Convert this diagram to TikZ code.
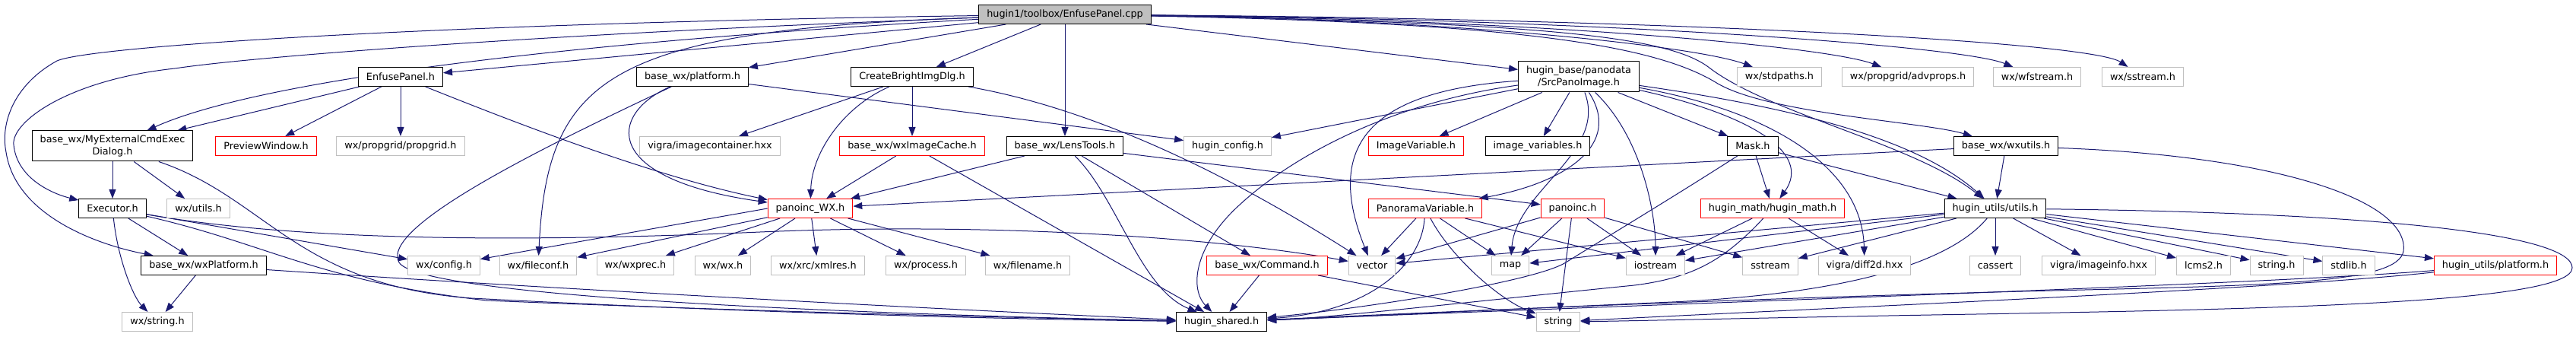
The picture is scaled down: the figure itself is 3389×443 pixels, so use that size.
\documentclass[tikz,border=0pt]{standalone}
\usepackage{fontspec}
\setmainfont{DejaVu Sans}
\usetikzlibrary{arrows.meta}
\definecolor{edgeblue}{HTML}{191970}
\definecolor{graybox}{HTML}{BFBFBF}
\pgfdeclarelayer{edges}
\pgfsetlayers{edges,main}
\tikzset{
  box/.style={draw=black, fill=white, line width=1pt, inner xsep=10.5pt, inner ysep=0pt,
    minimum height=25pt, font=\fontsize{12.8pt}{15.5pt}\selectfont},
  boxroot/.style={box, fill=graybox},
  boxred/.style={box, draw=red},
  boxgray/.style={box, draw=graybox},
  boxtwo/.style={box, align=center, minimum height=40pt},
  dep/.style={draw=edgeblue, line width=1pt, -{Triangle[length=12pt,width=9pt]}},
}

\begin{document}
\begin{tikzpicture}[x=1pt,y=1pt,yscale=-1,xscale=1]
\useasboundingbox (0,0) rectangle (3389,443);

% Row 0
\node[boxroot] (root) at (1401,19) {hugin1/toolbox/EnfusePanel.cpp};
% Row 1
\node[box] (enfpanel) at (527,101) {EnfusePanel.h};
\node[box] (bwxplat) at (911,101) {base\_wx/platform.h};
\node[box] (brightdlg) at (1200,101) {CreateBrightImgDlg.h};
\node[boxtwo] (srcimg) at (2077,101) {hugin\_base/panodata\\/SrcPanoImage.h};
\node[boxgray] (stdpaths) at (2341,101) {wx/stdpaths.h};
\node[boxgray] (advprops) at (2510,101) {wx/propgrid/advprops.h};
\node[boxgray] (wfstream) at (2680,101) {wx/wfstream.h};
\node[boxgray] (wxsstream) at (2819,101) {wx/sstream.h};
% Row 2
\node[boxtwo] (cmddlg) at (148,192) {base\_wx/MyExternalCmdExec\\Dialog.h};
\node[boxred] (preview) at (350,192) {PreviewWindow.h};
\node[boxgray] (propgrid) at (527,192) {wx/propgrid/propgrid.h};
\node[boxgray] (imgcont) at (934,192) {vigra/imagecontainer.hxx};
\node[boxred] (imgcache) at (1200,192) {base\_wx/wxImageCache.h};
\node[box] (lenstools) at (1401,192) {base\_wx/LensTools.h};
\node[boxgray] (hconfig) at (1615,192) {hugin\_config.h};
\node[boxred] (imgvar) at (1863,192) {ImageVariable.h};
\node[box] (imgvars) at (2023,192) {image\_variables.h};
\node[box] (mask) at (2306,192) {Mask.h};
\node[box] (wxutils) at (2639,192) {base\_wx/wxutils.h};
% Row 3
\node[box] (executor) at (148,274) {Executor.h};
\node[boxgray] (wxutilsh) at (261,274) {wx/utils.h};
\node[boxred] (panowx) at (1066,274) {panoinc\_WX.h};
\node[boxred] (panovar) at (1875,274) {PanoramaVariable.h};
\node[boxred] (panoinc) at (2069,274) {panoinc.h};
\node[boxred] (hmath) at (2332,274) {hugin\_math/hugin\_math.h};
\node[box] (hutils) at (2625,274) {hugin\_utils/utils.h};
% Row 4
\node[box] (wxplat) at (268,349) {base\_wx/wxPlatform.h};
\node[boxgray] (wxconfig) at (584,349) {wx/config.h};
\node[boxgray] (fileconf) at (708,349) {wx/fileconf.h};
\node[boxgray] (wxprec) at (836,349) {wx/wxprec.h};
\node[boxgray] (wxwx) at (951,349) {wx/wx.h};
\node[boxgray] (xmlres) at (1076,349) {wx/xrc/xmlres.h};
\node[boxgray] (process) at (1218,349) {wx/process.h};
\node[boxgray] (filename) at (1352,349) {wx/filename.h};
\node[boxred] (command) at (1667,349) {base\_wx/Command.h};
\node[boxgray] (vector) at (1805,349) {vector};
\node[boxgray] (map) at (1987,349) {map};
\node[boxgray] (iostream) at (2178,349) {iostream};
\node[boxgray] (sstream) at (2329,349) {sstream};
\node[boxgray] (diff2d) at (2453,349) {vigra/diff2d.hxx};
\node[boxgray] (cassert) at (2625,349) {cassert};
\node[boxgray] (imginfo) at (2761,349) {vigra/imageinfo.hxx};
\node[boxgray] (lcms) at (2899,349) {lcms2.h};
\node[boxgray] (stringh) at (2995,349) {string.h};
\node[boxgray] (stdlib) at (3090,349) {stdlib.h};
\node[boxred] (hplat) at (3283,349) {hugin\_utils/platform.h};
% Row 5
\node[boxgray] (wxstring) at (207,423) {wx/string.h};
\node[box] (shared) at (1607,423) {hugin\_shared.h};
\node[boxgray] (string) at (2050,423) {string};

\begin{pgfonlayer}{edges}
% Edges from the root
\draw[dep] (root) -- (enfpanel);
\draw[dep] (root) .. controls (700,58) and (330,110) .. (cmddlg);
\draw[dep] (root) .. controls (700,45) and (330,75) .. (230,90) .. controls (90,105) and (15,160) .. (18,190) .. controls (22,235) and (70,255) .. (executor);
\draw[dep] (root) .. controls (600,30) and (120,60) .. (75,80) .. controls (20,110) and (0,160) .. (8,200) .. controls (20,280) and (120,320) .. (wxplat);
\draw[dep] (root) .. controls (800,40) and (720,100) .. (fileconf);
\draw[dep] (root) -- (bwxplat);
\draw[dep] (root) -- (brightdlg);
\draw[dep] (root) -- (lenstools);
\draw[dep] (root) -- (srcimg);
\draw[dep] (root) .. controls (1900,25) and (2230,60) .. (stdpaths);
\draw[dep] (root) .. controls (2000,25) and (2400,60) .. (advprops);
\draw[dep] (root) .. controls (2100,25) and (2580,60) .. (wfstream);
\draw[dep] (root) .. controls (2200,25) and (2750,55) .. (wxsstream);
\draw[dep] (root) .. controls (2000,30) and (2180,60) .. (2260,110) .. controls (2330,150) and (2530,160) .. (wxutils);
\draw[dep] (root) .. controls (2050,30) and (2200,50) .. (2250,90) .. controls (2330,150) and (2520,190) .. (hutils);

% EnfusePanel.h
\draw[dep] (enfpanel) -- (cmddlg);
\draw[dep] (enfpanel) -- (preview);
\draw[dep] (enfpanel) -- (propgrid);
\draw[dep] (enfpanel) .. controls (650,150) and (850,230) .. (panowx);

% MyExternalCmdExecDialog.h, Executor.h, wxPlatform.h
\draw[dep] (cmddlg) -- (executor);
\draw[dep] (cmddlg) -- (wxutilsh);
\draw[dep] (cmddlg) .. controls (350,260) and (390,375) .. (620,392) .. controls (1000,412) and (1350,420) .. (shared);
\draw[dep] (executor) -- (wxplat);
\draw[dep] (executor) .. controls (155,340) and (175,390) .. (wxstring);
\draw[dep] (executor) -- (wxconfig);
\draw[dep] (executor) .. controls (400,318) and (700,318) .. (1000,305) .. controls (1300,292) and (1600,312) .. (vector);
\draw[dep] (executor) .. controls (350,320) and (420,370) .. (640,395) .. controls (1000,410) and (1350,418) .. (shared);
\draw[dep] (wxplat) -- (wxstring);
\draw[dep] (wxplat) .. controls (700,378) and (1200,405) .. (shared);

% base_wx/platform.h
\draw[dep] (bwxplat) -- (hconfig);
\draw[dep] (bwxplat) .. controls (800,150) and (790,235) .. (panowx);
\draw[dep] (bwxplat) .. controls (700,200) and (500,300) .. (525,345) .. controls (550,385) and (1000,410) .. (shared);

% CreateBrightImgDlg.h, wxImageCache.h, LensTools.h
\draw[dep] (brightdlg) -- (imgcache);
\draw[dep] (brightdlg) -- (imgcont);
\draw[dep] (brightdlg) .. controls (1110,140) and (1068,200) .. (panowx);
\draw[dep] (brightdlg) .. controls (1480,150) and (1680,270) .. (vector);
\draw[dep] (imgcache) -- (panowx);
\draw[dep] (imgcache) -- (shared);
\draw[dep] (lenstools) -- (panowx);
\draw[dep] (lenstools) .. controls (1470,260) and (1500,380) .. (shared);
\draw[dep] (lenstools) -- (command);
\draw[dep] (lenstools) -- (panoinc);

% panoinc_WX.h
\draw[dep] (panowx.west) -- (wxconfig);
\draw[dep] (panowx) -- (fileconf);
\draw[dep] (panowx) -- (wxprec);
\draw[dep] (panowx) -- (wxwx);
\draw[dep] (panowx) -- (xmlres);
\draw[dep] (panowx) -- (process);
\draw[dep] (panowx) -- (filename);

% base_wx/Command.h
\draw[dep] (command) -- (shared);
\draw[dep] (command) -- (string);

% SrcPanoImage.h
\draw[dep] (srcimg) -- (hconfig);
\draw[dep] (srcimg) -- (imgvar);
\draw[dep] (srcimg) -- (imgvars);
\draw[dep] (srcimg) .. controls (2135,190) and (2060,240) .. (panovar);
\draw[dep] (srcimg) .. controls (2115,200) and (1995,250) .. (map);
\draw[dep] (srcimg) .. controls (1790,120) and (1745,200) .. (vector);
\draw[dep] (srcimg) .. controls (1830,135) and (1700,205) .. (1630,270) .. controls (1570,325) and (1565,380) .. (shared);
\draw[dep] (srcimg) .. controls (2160,180) and (2178,280) .. (iostream);
\draw[dep] (srcimg) -- (mask);
\draw[dep] (srcimg) .. controls (2300,150) and (2385,200) .. (hmath);
\draw[dep] (srcimg) .. controls (2350,150) and (2450,230) .. (diff2d);
\draw[dep] (srcimg) .. controls (2350,140) and (2520,180) .. (hutils);

% PanoramaVariable.h, panoinc.h
\draw[dep] (panovar) -- (vector);
\draw[dep] (panovar) .. controls (1870,350) and (1800,410) .. (shared);
\draw[dep] (panovar) .. controls (1910,340) and (1975,395) .. (string);
\draw[dep] (panovar) -- (map);
\draw[dep] (panovar) -- (iostream);
\draw[dep] (panoinc) -- (vector);
\draw[dep] (panoinc) -- (map);
\draw[dep] (panoinc) -- (string);
\draw[dep] (panoinc) -- (iostream);
\draw[dep] (panoinc) -- (sstream);

% Mask.h, hugin_math.h
\draw[dep] (mask) -- (hmath);
\draw[dep] (mask) -- (hutils);
\draw[dep] (mask) .. controls (2200,260) and (2100,320) .. (2060,345) .. controls (2020,370) and (1800,405) .. (shared);
\draw[dep] (hmath) -- (iostream);
\draw[dep] (hmath) -- (diff2d);
\draw[dep] (hmath) .. controls (2270,340) and (2230,365) .. (2150,375) .. controls (1950,395) and (1750,418) .. (shared);

% base_wx/wxutils.h
\draw[dep] (wxutils) -- (panowx);
\draw[dep] (wxutils) -- (hutils);
\draw[dep] (wxutils) .. controls (3000,205) and (3170,265) .. (3162,330) .. controls (3155,372) and (3000,375) .. (2700,382) .. controls (2300,392) and (1900,410) .. (shared);

% hugin_utils/utils.h
\draw[dep] (hutils) -- (vector);
\draw[dep] (hutils) -- (map);
\draw[dep] (hutils) -- (iostream);
\draw[dep] (hutils) -- (sstream);
\draw[dep] (hutils) -- (cassert);
\draw[dep] (hutils) -- (imginfo);
\draw[dep] (hutils) -- (lcms);
\draw[dep] (hutils) -- (stringh);
\draw[dep] (hutils) -- (stdlib);
\draw[dep] (hutils) -- (hplat);
\draw[dep] (hutils) .. controls (2570,340) and (2450,385) .. (2200,397) .. controls (1950,408) and (1750,418) .. (shared);
\draw[dep] (hutils) .. controls (3150,280) and (3384,310) .. (3384,352) .. controls (3384,398) and (3000,406) .. (2600,413) .. controls (2300,418) and (2150,422) .. (string);

% hugin_utils/platform.h
\draw[dep] (hplat) .. controls (3000,372) and (2400,392) .. (shared);
\draw[dep] (hplat) .. controls (3000,380) and (2400,405) .. (string);
\end{pgfonlayer}

\end{tikzpicture}
\end{document}
